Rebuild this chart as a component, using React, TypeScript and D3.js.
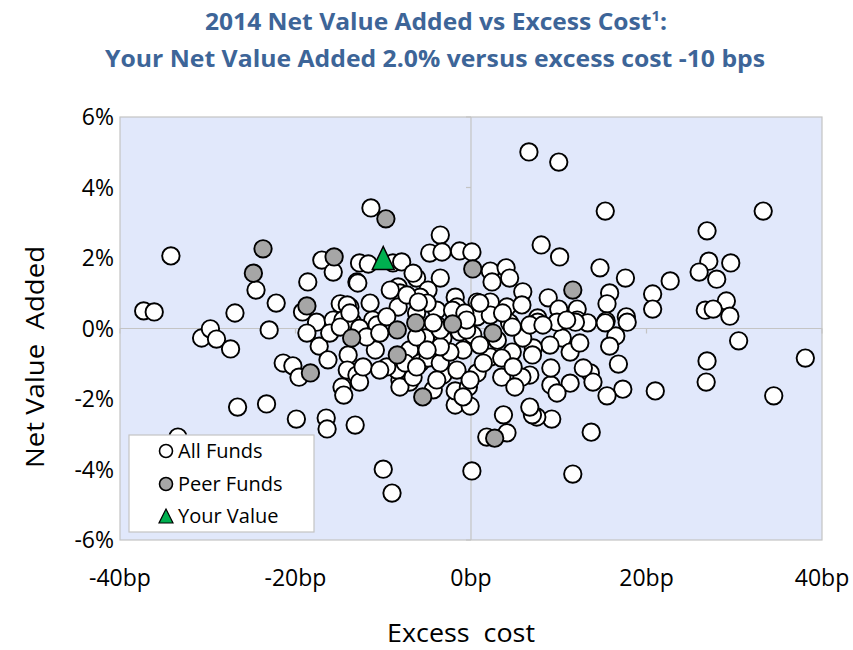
import React from 'react';
import * as d3 from 'd3';

// ---- Data (Excess cost in bp, Net Value Added in %) ----
const xTickValues = [-40, -20, 0, 20, 40];
const yTickValues = [-6, -4, -2, 0, 2, 4, 6];
const xTickLabels = ['-40bp', '-20bp', '0bp', '20bp', '40bp'];
const yTickLabels = ['-6%', '-4%', '-2%', '0%', '2%', '4%', '6%'];

const allFunds: [number, number][] = [
  [6.6, 5.01], [10.0, 4.72], [-11.4, 3.42], [15.3, 3.33], [33.3, 3.33], [-3.5, 2.65], [8.0, 2.37],
  [26.9, 2.77], [-34.2, 2.06], [10.1, 2.03], [-24.5, 1.09], [-22.2, 0.72], [-26.9, 0.44], [-37.3, 0.5],
  [-36.1, 0.47], [-30.7, -0.27], [-29.7, -0.01], [-29.0, -0.3], [-27.4, -0.58], [-26.6, -2.23],
  [-23.3, -2.14], [-19.9, -2.57], [-16.5, -2.54], [-16.4, -2.85], [-13.2, -2.74], [-33.4, -3.08],
  [-10.0, -3.99], [-9.0, -4.67], [0.1, -4.04], [11.6, -4.13], [13.7, -2.94], [3.7, -2.45], [1.8, -3.08],
  [4.1, -2.96], [38.1, -0.84], [34.5, -1.91], [30.5, -0.35], [26.9, -0.92], [26.8, -1.52], [21.0, -1.77],
  [17.3, -1.72], [15.5, -1.91], [14.7, 1.72], [17.6, 1.43], [22.7, 1.35], [20.7, 0.98], [20.7, 0.55],
  [27.1, 1.91], [26.0, 1.6], [29.6, 1.86], [28.0, 1.4], [29.1, 0.78], [26.7, 0.52], [27.6, 0.55],
  [29.5, 0.35], [15.8, 1.01], [15.5, 0.7], [17.7, 0.33], [15.4, 0.21], [8.8, 0.87], [10.0, 0.55],
  [12.1, 0.55], [7.6, 0.3], [12.1, 0.24], [13.3, 0.16], [16.8, -1.01], [16.5, -0.21], [15.8, -0.5],
  [13.6, -1.26], [13.9, -1.52], [11.3, -1.55], [9.1, -1.6], [9.8, -1.83], [9.2, -2.57], [7.5, -2.51],
  [7.0, -2.45], [9.1, -1.12], [10.4, -0.27], [9.0, -0.47], [11.3, -0.67], [12.4, -0.41], [12.8, -1.12],
  [7.1, -0.55], [6.7, -1.32], [7.6, 0.18], [9.8, 0.18], [11.9, 0.18], [15.3, 0.16], [17.8, 0.18],
  [-18.6, 1.32], [-17.0, 1.94], [-15.7, 1.6], [-13.0, 1.32], [-19.2, 0.47], [-17.6, 0.18], [-14.9, 0.7],
  [-13.8, 0.61], [-15.7, 0.24], [-14.6, 0.24], [-23.0, -0.04], [-12.7, 1.86], [-21.4, -0.98],
  [-20.3, -1.06], [-19.6, -1.38], [-17.3, -0.5], [-16.3, -0.89], [-18.7, -0.13], [-16.1, -0.13],
  [-14.0, -0.75], [-14.1, -1.18], [-14.7, -1.66], [-14.5, -1.89], [-13.0, -1.32], [-4.7, 2.14],
  [-3.3, 2.17], [-1.3, 2.2], [0.1, 2.17], [2.2, 1.63], [2.4, 1.32], [4.0, 1.72], [4.4, 1.43], [5.9, 1.04],
  [-11.7, 1.83], [-8.9, 1.86], [-7.9, 1.89], [-12.9, 1.29], [-6.2, 1.43], [-3.5, 1.43], [-8.3, 1.18],
  [-4.9, 1.09], [-8.1, 1.01], [-11.5, 0.72], [-14.1, 0.67], [-8.3, 0.61], [-5.8, 0.89], [-3.9, 0.52],
  [-1.8, 0.89], [-1.6, 0.61], [0.7, 0.75], [2.2, 0.75], [4.1, 0.61], [5.8, 0.67], [0.7, 0.33], [2.2, 0.38],
  [4.4, 0.16], [-11.2, 0.24], [-13.5, 0.18], [-1.8, -2.17], [-0.1, -2.2], [-1.8, -1.77], [0.7, -1.26],
  [-3.2, -1.32], [-4.3, -1.74], [-8.1, -1.46], [-7.0, -1.52], [-12.7, -1.52], [-12.3, -1.09],
  [-10.9, -0.61], [-8.4, -1.18], [-7.0, -0.61], [-5.8, -0.98], [-4.9, -0.84], [-3.5, -0.98],
  [-0.9, -0.61], [-2.4, -0.67], [0.2, -0.18], [2.2, -0.81], [3.5, -1.38], [4.7, -0.67], [5.8, -1.38],
  [5.0, -1.66], [5.9, -0.27], [4.7, 0.04], [-5.2, -0.27], [-3.2, -0.27], [-10.7, 0.1], [-12.7, 0.01],
  [-1.3, -0.1], [-3.9, 0.1], [6.7, -2.23], [-0.3, -1.66], [-8.1, -1.66], [-6.6, -1.38], [-9.6, -1.09],
  [-6.6, 1.57], [-11.9, -0.24], [-6.2, -0.24], [-3.5, -0.52], [-1.6, -1.18], [-3.9, -1.46],
  [-10.4, -1.18], [-5.0, 0.72], [-2.1, 0.52], [-6.2, 0.44], [7.0, -0.75], [-0.9, -1.94],
  [-9.2, 1.09], [-7.3, 0.95], [-6.0, 0.75], [-9.6, 0.33], [-3.5, -0.04], [-4.3, 0.16], [-10.4, -0.13],
  [-5.0, -0.61], [-7.5, -0.98], [-6.2, -1.09], [-0.7, 0.44], [-0.5, -0.04], [-14.9, 0.04], [-13.8, 0.44],
  [-0.5, 0.24], [1.0, 0.72], [3.6, 0.44], [3.0, -0.33], [1.0, -0.47], [3.5, -0.84], [6.7, 0.1],
  [8.2, 0.1], [10.9, 0.24], [4.8, -1.09], [1.4, -0.98], [-0.1, -1.46],
];

const peerFunds: [number, number][] = [
  [-9.7, 3.11], [-23.7, 2.26], [-15.6, 2.03], [-24.8, 1.57], [-18.7, 0.64], [0.2, 1.69], [11.6, 1.09],
  [-18.3, -1.26], [-13.6, -0.27], [-8.4, -0.04], [-6.3, 0.16], [-2.1, 0.13], [2.5, -0.13], [-8.4, -0.75],
  [-5.5, -1.94], [2.7, -3.11],
];

const yourValue: [number, number][] = [[-10, 2.0]];

const legendLabels = ['All Funds', 'Peer Funds', 'Your Value'];

const FONT = "'Open Sans', 'Liberation Sans', sans-serif";
const TITLE_COLOR = '#3d6598';
const BG = '#e1e8fb';
const GRID = '#c4c4c4';

function triPath(w: number, h: number) {
  const p = d3.path();
  p.moveTo(0, -h / 2);
  p.lineTo(w / 2, h / 2);
  p.lineTo(-w / 2, h / 2);
  p.closePath();
  return p.toString();
}

export default function App() {
  const W = 853;
  const H = 650;
  const x = d3.scaleLinear().domain([-40, 40]).range([120, 822]);
  const y = d3.scaleLinear().domain([-6, 6]).range([540, 117]);
  const r = 8.7;

  return (
    <svg width={W} height={H} style={{ position: 'absolute', left: 0, top: 0, background: '#fff' }}
      fontFamily={FONT}>
      {/* title */}
      <text x={436} y={30} textAnchor="middle" fontSize={23} fontWeight="bold" fill={TITLE_COLOR}
        textLength={462} lengthAdjust="spacingAndGlyphs">
        2014 Net Value Added vs Excess Cost<tspan fontSize={14} dy={-9}>1</tspan><tspan dy={9}>:</tspan>
      </text>
      <text x={435} y={67} textAnchor="middle" fontSize={23} fontWeight="bold" fill={TITLE_COLOR}
        textLength={660} lengthAdjust="spacingAndGlyphs">
        Your Net Value Added 2.0% versus excess cost -10 bps
      </text>

      {/* plot area */}
      <rect x={x(-40)} y={y(6)} width={x(40) - x(-40)} height={y(-6) - y(6)} fill={BG} stroke={GRID} strokeWidth={1.2} />
      {/* zero axes */}
      <line x1={x(0)} x2={x(0)} y1={y(6)} y2={y(-6)} stroke={GRID} strokeWidth={1.2} />
      <line x1={x(-40)} x2={x(40)} y1={y(0)} y2={y(0)} stroke={GRID} strokeWidth={1.2} />
      {yTickValues.map((v) => (
        <line key={'yt' + v} x1={x(0) - 5} x2={x(0)} y1={y(v)} y2={y(v)} stroke={GRID} strokeWidth={1.2} />
      ))}
      {xTickValues.map((v) => (
        <line key={'xt' + v} x1={x(v)} x2={x(v)} y1={y(0)} y2={y(0) + 5} stroke={GRID} strokeWidth={1.2} />
      ))}

      {/* tick labels */}
      {yTickValues.map((v, i) => (
        <text key={'yl' + v} x={114} y={y(v)} dy="0.36em" textAnchor="end" fontSize={23} fill="#000">
          {yTickLabels[i]}
        </text>
      ))}
      {xTickValues.map((v, i) => (
        <text key={'xl' + v} x={x(v)} y={586} textAnchor="middle" fontSize={23} fill="#000">
          {xTickLabels[i]}
        </text>
      ))}

      {/* axis titles */}
      <text x={461} y={642} textAnchor="middle" fontSize={25} fill="#000" style={{ whiteSpace: 'pre' }}
        textLength={148} lengthAdjust="spacingAndGlyphs">
        {'Excess  cost'}
      </text>
      <text transform={`translate(44,357) rotate(-90)`} textAnchor="middle" fontSize={25} fill="#000"
        style={{ whiteSpace: 'pre' }} textLength={222} lengthAdjust="spacingAndGlyphs">
        {'Net Value  Added'}
      </text>

      {/* points */}
      {allFunds.map((d, i) => (
        <circle key={'a' + i} cx={x(d[0])} cy={y(d[1])} r={r} fill="#fff" stroke="#000" strokeWidth={1.9} />
      ))}
      {peerFunds.map((d, i) => (
        <circle key={'p' + i} cx={x(d[0])} cy={y(d[1])} r={r} fill="#a6a6a6" stroke="#000" strokeWidth={1.9} />
      ))}
      {yourValue.map((d, i) => (
        <path key={'y' + i} d={triPath(22, 23)} transform={`translate(${x(d[0])},${y(d[1])})`}
          fill="#00b050" stroke="#000" strokeWidth={1.5} />
      ))}

      {/* legend */}
      <g>
        <rect x={129} y={435} width={185} height={97} fill="#fff" stroke={GRID} strokeWidth={1.2} />
        <circle cx={166} cy={451} r={6.5} fill="#fff" stroke="#000" strokeWidth={1.6} />
        <circle cx={166} cy={484} r={6.5} fill="#a6a6a6" stroke="#000" strokeWidth={1.6} />
        <path d={triPath(14, 14)} transform="translate(166,516)" fill="#00b050" stroke="#000" strokeWidth={1.2} />
        {legendLabels.map((t, i) => (
          <text key={t} x={178} y={451 + i * 32.5} dy="0.35em" fontSize={20} fill="#000">{t}</text>
        ))}
      </g>
    </svg>
  );
}
